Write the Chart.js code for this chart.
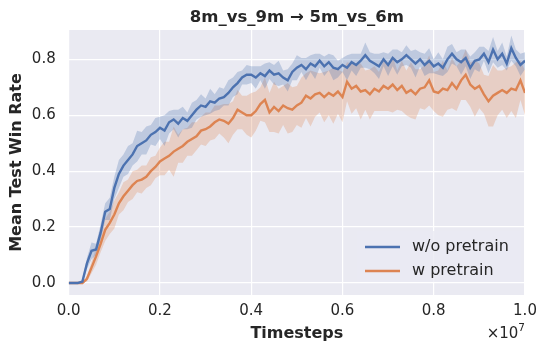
<!DOCTYPE html>
<html>
<head>
<meta charset="utf-8">
<script src="https://cdn.jsdelivr.net/npm/chart.js@4.4.1/dist/chart.umd.min.js"></script>
<style>
  html, body { margin: 0; padding: 0; background: #fff; }
  #wrap { width: 548px; height: 354px; }
</style>
</head>
<body>
<div id="wrap"><canvas id="c" width="548" height="354"></canvas></div>
<script>
// ── DATA (timesteps in units of 1e7) ──
const steps = [0,.01,.02,.03,.04,.05,.06,.07,.08,.09,.1,.11,.12,.13,.14,.15,.16,.17,.18,.19,
  .2,.21,.22,.23,.24,.25,.26,.27,.28,.29,.3,.31,.32,.33,.34,.35,.36,.37,.38,.39,
  .4,.41,.42,.43,.44,.45,.46,.47,.48,.49,.5,.51,.52,.53,.54,.55,.56,.57,.58,.59,
  .6,.61,.62,.63,.64,.65,.66,.67,.68,.69,.7,.71,.72,.73,.74,.75,.76,.77,.78,.79,
  .8,.81,.82,.83,.84,.85,.86,.87,.88,.89,.9,.91,.92,.93,.94,.95,.96,.97,.98,.99,1];

const woPretrain = [0,0,0,0.005,0.07,0.115,0.12,0.18,0.255,0.265,
  0.34,0.39,0.42,0.44,0.46,0.49,0.50,0.51,0.53,0.54,
  0.555,0.545,0.575,0.585,0.57,0.59,0.58,0.60,0.62,0.635,
  0.63,0.65,0.645,0.66,0.665,0.68,0.70,0.715,0.735,0.745,
  0.745,0.735,0.75,0.74,0.76,0.745,0.75,0.735,0.725,0.755,
  0.77,0.78,0.765,0.785,0.775,0.795,0.775,0.79,0.77,0.765,
  0.78,0.77,0.79,0.78,0.795,0.815,0.795,0.785,0.775,0.80,
  0.78,0.805,0.79,0.80,0.815,0.80,0.785,0.80,0.78,0.795,
  0.775,0.785,0.77,0.80,0.82,0.80,0.79,0.805,0.77,0.795,
  0.80,0.82,0.79,0.835,0.80,0.82,0.785,0.84,0.805,0.78,
  0.795];
const woSpread = [0,0,0,0.005,0.02,0.03,0.02,0.03,0.03,0.04,
  0.04,0.05,0.04,0.05,0.04,0.055,0.04,0.05,0.035,0.05,
  0.04,0.055,0.04,0.035,0.05,0.04,0.03,0.045,0.035,0.04,
  0.03,0.045,0.03,0.04,0.03,0.045,0.035,0.04,0.025,0.035,
  0.03,0.04,0.025,0.045,0.03,0.035,0.045,0.025,0.04,0.03,
  0.045,0.025,0.04,0.03,0.045,0.025,0.035,0.03,0.045,0.03,
  0.025,0.045,0.03,0.04,0.025,0.045,0.03,0.035,0.045,0.025,
  0.04,0.03,0.045,0.025,0.035,0.03,0.05,0.025,0.04,0.045,
  0.025,0.04,0.03,0.045,0.035,0.025,0.045,0.03,0.04,0.03,
  0.045,0.025,0.04,0.045,0.03,0.04,0.025,0.045,0.03,0.04,
  0.03];

const wPretrain = [0,0,0,0,0.015,0.055,0.095,0.14,0.19,0.215,
  0.245,0.285,0.31,0.33,0.35,0.365,0.37,0.38,0.40,0.415,
  0.435,0.445,0.455,0.47,0.48,0.49,0.505,0.515,0.525,0.545,
  0.55,0.56,0.575,0.585,0.58,0.57,0.59,0.62,0.61,0.60,
  0.60,0.615,0.64,0.655,0.61,0.63,0.615,0.635,0.625,0.62,
  0.635,0.645,0.67,0.66,0.675,0.68,0.665,0.68,0.67,0.685,
  0.665,0.72,0.695,0.705,0.685,0.69,0.675,0.695,0.685,0.705,
  0.695,0.71,0.69,0.705,0.68,0.69,0.675,0.695,0.70,0.725,
  0.685,0.68,0.695,0.69,0.715,0.695,0.725,0.745,0.71,0.695,
  0.705,0.675,0.65,0.67,0.68,0.69,0.68,0.695,0.69,0.725,
  0.68];
const wSpread = [0,0,0,0,0.01,0.02,0.03,0.03,0.04,0.04,
  0.05,0.04,0.05,0.04,0.05,0.04,0.05,0.04,0.05,0.04,
  0.05,0.06,0.05,0.09,0.05,0.06,0.05,0.06,0.05,0.05,
  0.06,0.05,0.06,0.05,0.06,0.07,0.06,0.07,0.06,0.07,
  0.08,0.07,0.06,0.08,0.07,0.09,0.08,0.07,0.09,0.08,
  0.07,0.09,0.08,0.1,0.08,0.07,0.09,0.08,0.1,0.08,
  0.09,0.07,0.09,0.08,0.1,0.07,0.09,0.08,0.07,0.09,
  0.08,0.1,0.07,0.09,0.08,0.1,0.09,0.07,0.08,0.09,
  0.07,0.08,0.1,0.07,0.09,0.08,0.07,0.09,0.08,0.1,
  0.08,0.07,0.09,0.11,0.08,0.07,0.09,0.08,0.1,0.07,
  0.08];

const xTicks = [0, 0.2, 0.4, 0.6, 0.8, 1.0];
const yTicks = [0, 0.2, 0.4, 0.6, 0.8];
const seriesLabels = ['w/o pretrain', 'w pretrain'];
const chartTitle = '8m_vs_9m → 5m_vs_6m';

// ── STYLE ──
const FF = "'DejaVu Sans', sans-serif";
const INK = '#262626';
const BLUE = '#4C72B0', ORANGE = '#DD8452';

const pts = (ys) => steps.map((x, i) => ({ x, y: ys[i] }));
const band = (m, s, sign) => pts(m.map((v, i) => v + sign * s[i]));

const lineDs = (label, data, color, order) => ({
  label, data: pts(data), borderColor: color, borderWidth: 2.4, pointRadius: 0, fill: false, tension: 0, order
});
const bandDs = (data, fill, color) => ({
  data, borderWidth: 0, pointRadius: 0, fill, backgroundColor: color, tension: 0, order: 5
});

const bgPlugin = {
  id: 'bg',
  beforeDraw(chart) {
    const { ctx, chartArea: a } = chart;
    ctx.save(); ctx.fillStyle = '#EAEAF2'; ctx.fillRect(a.left, a.top, a.right - a.left, a.bottom - a.top); ctx.restore();
  }
};

const extrasPlugin = {
  id: 'extras',
  afterDraw(chart) {
    const { ctx, chartArea: a } = chart;
    ctx.save();
    // title, centred over the axes
    ctx.fillStyle = INK; ctx.textAlign = 'center'; ctx.textBaseline = 'alphabetic';
    ctx.font = `700 16.5px ${FF}`;
    ctx.fillText(chartTitle, (a.left + a.right) / 2, 22);
    // legend box + entries
    ctx.fillStyle = 'rgba(234,234,242,0.8)';
    ctx.fillRect(357, 231, 164, 51);
    const rows = [[seriesLabels[0], BLUE, 247], [seriesLabels[1], ORANGE, 271]];
    ctx.font = `400 16px ${FF}`; ctx.textBaseline = 'middle'; ctx.textAlign = 'left';
    rows.forEach(([t, c, y]) => {
      ctx.beginPath(); ctx.moveTo(365, y); ctx.lineTo(400, y);
      ctx.strokeStyle = c; ctx.lineWidth = 2.4; ctx.stroke();
      ctx.fillStyle = INK; ctx.fillText(t, 412, y);
    });
    // offset text ×10^7
    ctx.textAlign = 'right'; ctx.textBaseline = 'alphabetic'; ctx.fillStyle = INK;
    ctx.font = `400 10.5px ${FF}`;
    const w7 = ctx.measureText('7').width;
    ctx.fillText('7', a.right, 331);
    ctx.font = `400 15px ${FF}`;
    ctx.fillText('×10', a.right - w7, 338);
    ctx.restore();
  }
};

new Chart(document.getElementById('c'), {
  type: 'line',
  data: {
    datasets: [
      bandDs(band(woPretrain, woSpread, 1), '+1', 'rgba(76,114,176,0.28)'),
      bandDs(band(woPretrain, woSpread, -1), false, 'rgba(76,114,176,0.28)'),
      bandDs(band(wPretrain, wSpread, 1), '+1', 'rgba(221,132,82,0.28)'),
      bandDs(band(wPretrain, wSpread, -1), false, 'rgba(221,132,82,0.28)'),
      lineDs(seriesLabels[0], woPretrain, BLUE, 0),
      lineDs(seriesLabels[1], wPretrain, ORANGE, 1),
    ]
  },
  options: {
    responsive: false, animation: false,
    layout: { padding: { left: 0, right: 23, top: 30, bottom: 0 } },
    plugins: { legend: { display: false }, tooltip: { enabled: false }, title: { display: false } },
    scales: {
      x: {
        type: 'linear', min: 0, max: 1,
        afterFit: s => { s.height = 59; },
        afterBuildTicks: s => { s.ticks = xTicks.map(v => ({ value: v })); },
        grid: { color: '#fff', lineWidth: 1.2, drawTicks: false },
        border: { display: false },
        ticks: { color: INK, font: { family: FF, size: 15 }, padding: 7, maxRotation: 0, callback: v => v.toFixed(1) },
        title: { display: true, text: 'Timesteps', color: INK, font: { family: FF, size: 16, weight: 'bold' }, padding: { top: 0, bottom: 10.4 } }
      },
      y: {
        min: -0.043, max: 0.905,
        afterFit: s => { s.width = 68.7; },
        afterBuildTicks: s => { s.ticks = yTicks.map(v => ({ value: v })); },
        grid: { color: '#fff', lineWidth: 1.2, drawTicks: false },
        border: { display: false },
        ticks: { color: INK, font: { family: FF, size: 15 }, padding: 13, callback: v => v.toFixed(1) },
        title: { display: true, text: 'Mean Test Win Rate', color: INK, font: { family: FF, size: 16, weight: 'bold' }, padding: { top: 7.4, bottom: 0 } }
      }
    }
  },
  plugins: [bgPlugin, extrasPlugin]
});
</script>
</body>
</html>
